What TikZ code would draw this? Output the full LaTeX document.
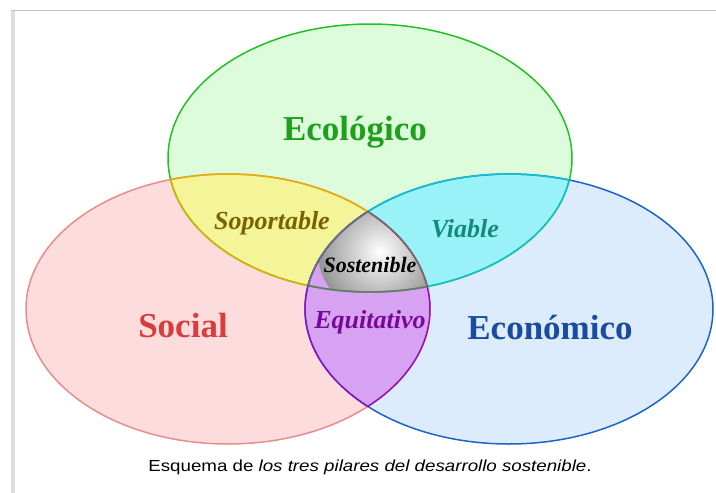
\documentclass[tikz,border=0pt]{standalone}
\usepackage{fontspec}
\setmainfont{Liberation Serif}
\newfontfamily\capfont{Liberation Sans}
\definecolor{gfill}{HTML}{DCFCDC}
\definecolor{gline}{HTML}{22C022}
\definecolor{rfill}{HTML}{FCDCDC}
\definecolor{rline}{HTML}{E88C8C}
\definecolor{bfill}{HTML}{DCECFC}
\definecolor{bline}{HTML}{1C64C8}
\definecolor{yfill}{HTML}{F4F498}
\definecolor{yline}{HTML}{E0B000}
\definecolor{cfill}{HTML}{98F2F8}
\definecolor{cline}{HTML}{10C0D0}
\definecolor{pfill}{HTML}{D8A2F2}
\definecolor{pline}{HTML}{9010C0}
\definecolor{sline}{HTML}{707070}
\definecolor{tgreen}{HTML}{1EA01E}
\definecolor{tred}{HTML}{D83C3C}
\definecolor{tblue}{HTML}{1A4C9E}
\definecolor{tolive}{HTML}{7A6200}
\definecolor{tteal}{HTML}{168A78}
\definecolor{tpurple}{HTML}{780898}
\def\GreenE{(370,158) ellipse [x radius=202pt, y radius=134pt]}
\def\RedE{(228,309) ellipse [x radius=202pt, y radius=135pt]}
\def\BlueE{(509,309) ellipse [x radius=204pt, y radius=135pt]}
\tikzset{
  ring/.style={line width=1.5pt},
  bigtext/.style={font=\fontsize{35}{40}\selectfont\bfseries, anchor=base},
  midtext/.style={font=\fontsize{26}{30}\selectfont\bfseries\itshape, anchor=base},
}
\begin{document}
\begin{tikzpicture}[x=1pt,y=-1pt]
\useasboundingbox (0,0) rectangle (716,493);
% frame
\fill[black!13] (11,10) rectangle (15,493);
\draw[black!25, line width=1pt] (11,10.5) -- (716,10.5);
% base fills
\fill[gfill] \GreenE;
\fill[rfill] \RedE;
\fill[bfill] \BlueE;
% pair intersections
\begin{scope}\clip \GreenE; \fill[yfill] \RedE; \end{scope}
\begin{scope}\clip \GreenE; \fill[cfill] \BlueE; \end{scope}
\begin{scope}\clip \RedE; \fill[pfill] \BlueE; \end{scope}
% triple intersection
\begin{scope}\clip \GreenE; \clip \RedE; \clip \BlueE;
  \shade[inner color=white, outer color=black!42] (380,252) circle (62pt);
\end{scope}
% outlines
\draw[ring, gline] \GreenE;
\draw[ring, rline] \RedE;
\draw[ring, bline] \BlueE;
\begin{scope}\clip \RedE; \draw[ring, yline] \GreenE; \end{scope}
\begin{scope}\clip \GreenE; \draw[ring, yline] \RedE; \end{scope}
\begin{scope}\clip \BlueE; \draw[ring, cline] \GreenE; \end{scope}
\begin{scope}\clip \GreenE; \draw[ring, cline] \BlueE; \end{scope}
\begin{scope}\clip \RedE; \draw[ring, pline] \BlueE; \end{scope}
\begin{scope}\clip \BlueE; \draw[ring, pline] \RedE; \end{scope}
\begin{scope}\clip \RedE; \clip \BlueE; \draw[ring, sline] \GreenE; \end{scope}
\begin{scope}\clip \GreenE; \clip \BlueE; \draw[ring, sline] \RedE; \end{scope}
\begin{scope}\clip \GreenE; \clip \RedE; \draw[ring, sline] \BlueE; \end{scope}
% labels
\node[bigtext, text=tgreen] (eco) at (355,140) {Ecológico};
\node[bigtext, text=tred] (soc) at (183,337) {Social};
\node[bigtext, text=tblue] (econ) at (550,339) {Económico};
\node[midtext, text=tolive] (sop) at (272,229) {Soportable};
\node[midtext, text=tteal] (via) at (465,237) {Viable};
\node[midtext, text=tpurple] (equ) at (370,328) {Equitativo};
\node[midtext, text=black, font=\fontsize{22}{25}\selectfont\bfseries\itshape] (sos) at (370,272) {Sostenible};
\node[anchor=base, xscale=1.17, font=\capfont\fontsize{16}{19}\selectfont] (cap) at (370,471) {Esquema de \textit{los tres pilares del desarrollo sostenible}.};
\end{tikzpicture}
\end{document}
